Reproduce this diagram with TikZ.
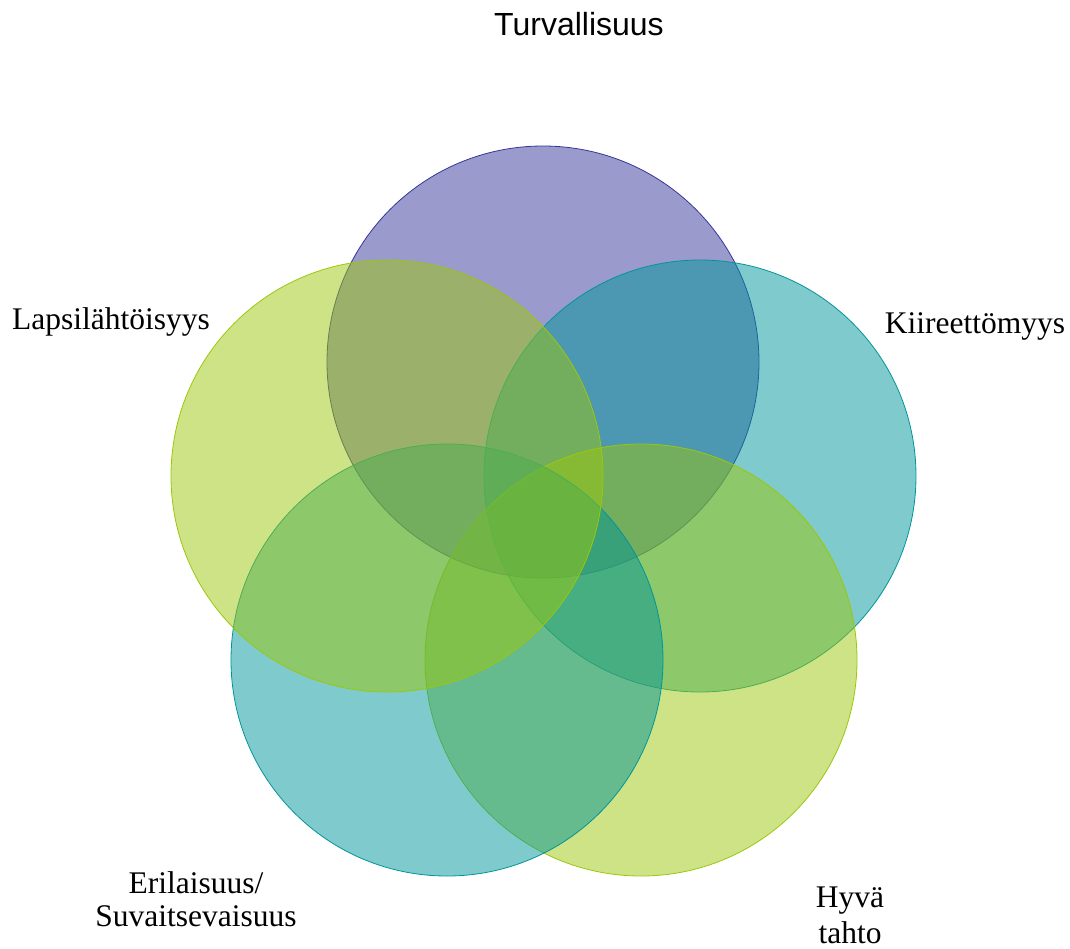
\documentclass[tikz,border=0pt]{standalone}
\usepackage{fontspec}
\setmainfont{Liberation Serif}
\newfontfamily\labelsans{Liberation Sans}
\definecolor{cpurple}{HTML}{353599}
\definecolor{cteal}{HTML}{009599}
\definecolor{cgreen}{HTML}{9BC70B}
\begin{document}
\begin{tikzpicture}[x=1pt,y=-1pt,
  venn/.style={circle, minimum size=432pt, inner sep=0pt, fill=#1, fill opacity=0.5, draw=#1, line width=0.8pt},
  lbl/.style={anchor=base, inner sep=0pt, font=\fontsize{31.5}{36}\selectfont}]
\useasboundingbox (0,0) rectangle (1070,948);
\node[venn=cpurple] (c1) at (543,362) {};
\node[venn=cteal]   (c2) at (700,476) {};
\node[venn=cgreen]  (c3) at (641,660) {};
\node[venn=cteal]   (c4) at (447,660) {};
\node[venn=cgreen]  (c5) at (387,476) {};
\node[lbl, font=\labelsans\fontsize{32}{36}\selectfont] (t1) at (579,35) {Turvallisuus};
\node[lbl] (t2) at (975,333) {Kiireettömyys};
\node[lbl] (t3a) at (850,907) {Hyvä};
\node[lbl] (t3b) at (850,943) {tahto};
\node[lbl] (t4a) at (196,893) {Erilaisuus/};
\node[lbl] (t4b) at (196,926) {Suvaitsevaisuus};
\node[lbl] (t5) at (111,329) {Lapsilähtöisyys};
\end{tikzpicture}
\end{document}
